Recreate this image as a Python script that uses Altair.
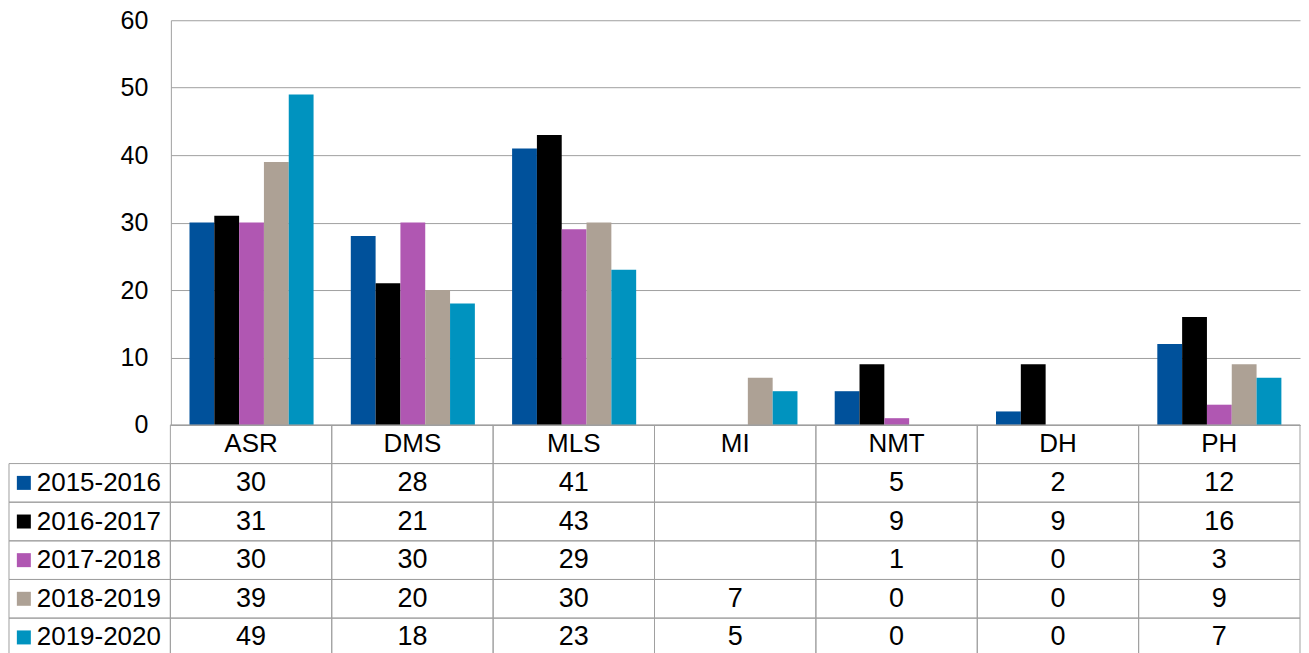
import altair as alt
import pandas as pd

categories = ["ASR", "DMS", "MLS", "MI", "NMT", "DH", "PH"]
series = ["2015-2016", "2016-2017", "2017-2018", "2018-2019", "2019-2020"]
v2015 = [30, 28, 41, None, 5, 2, 12]
v2016 = [31, 21, 43, None, 9, 9, 16]
v2017 = [30, 30, 29, None, 1, 0, 3]
v2018 = [39, 20, 30, 7, 0, 0, 9]
v2019 = [49, 18, 23, 5, 0, 0, 7]
colors = ["#00519B", "#000000", "#B057B2", "#ADA195", "#0093BF"]
y_ticks = [0, 10, 20, 30, 40, 50, 60]

values = [v2015, v2016, v2017, v2018, v2019]
FONT = "Liberation Sans"
GRID = "#A0A0A0"
PLOT_W = 1130
LEG_W = 162

bar_rows = []
for s, vals in zip(series, values):
    for c, v in zip(categories, vals):
        if v is not None:
            bar_rows.append({"cat": c, "series": s, "value": v})
bars_df = pd.DataFrame(bar_rows)

color_scale = alt.Scale(domain=series, range=colors)

bars = alt.Chart(bars_df).mark_bar().encode(
    x=alt.X("cat:N", sort=categories,
            scale=alt.Scale(paddingInner=0.2308, paddingOuter=0.1154),
            axis=alt.Axis(labels=False, ticks=False, title=None,
                          domainColor=GRID, domainWidth=1)),
    xOffset=alt.XOffset("series:N", sort=series,
                        scale=alt.Scale(paddingInner=0, paddingOuter=0)),
    y=alt.Y("value:Q", scale=alt.Scale(domain=[0, 60]),
            axis=alt.Axis(values=y_ticks, title=None, ticks=False,
                          labelFontSize=25, labelFont=FONT, labelColor="black",
                          labelPadding=23, gridColor=GRID, gridWidth=1,
                          domainColor=GRID, domainWidth=1)),
    color=alt.Color("series:N", scale=color_scale, legend=None),
).properties(width=PLOT_W, height=405)

# table
cols = ["legend"] + categories
rows = ["header"] + series
cell_rows = []
for r in rows:
    for c in cols:
        if r == "header" and c == "legend":
            continue
        cell_rows.append({"col": c, "row": r})
cells_df = pd.DataFrame(cell_rows)

header_df = pd.DataFrame({"col": categories, "row": ["header"] * len(categories), "label": categories})
val_rows = []
for s, vals in zip(series, values):
    for c, v in zip(categories, vals):
        if v is not None:
            val_rows.append({"col": c, "row": s, "label": str(v)})
vals_df = pd.DataFrame(val_rows)
leg_df = pd.DataFrame({"col": ["legend"] * len(series), "row": series, "series": series})

xs = alt.Scale(domain=cols, range=[-LEG_W, PLOT_W], paddingInner=0, paddingOuter=0)
ys = alt.Scale(domain=rows, paddingInner=0, paddingOuter=0)

cell_layer = alt.Chart(cells_df).mark_rect(fill="transparent", stroke=GRID, strokeWidth=1).encode(
    x=alt.X("col:N", scale=xs, axis=None, sort=cols),
    y=alt.Y("row:N", scale=ys, axis=None, sort=rows),
)
header_layer = alt.Chart(header_df).mark_text(fontSize=26, font=FONT, color="black").encode(
    x=alt.X("col:N", scale=xs, axis=None, sort=cols),
    y=alt.Y("row:N", scale=ys, axis=None, sort=rows),
    text="label:N",
)
val_layer = alt.Chart(vals_df).mark_text(fontSize=27, font=FONT, color="black").encode(
    x=alt.X("col:N", scale=xs, axis=None, sort=cols),
    y=alt.Y("row:N", scale=ys, axis=None, sort=rows),
    text="label:N",
)
sq_layer = alt.Chart(leg_df).mark_square(size=196, opacity=1).encode(
    x=alt.X("col:N", scale=xs, axis=None, sort=cols, bandPosition=0.092),
    y=alt.Y("row:N", scale=ys, axis=None, sort=rows),
    color=alt.Color("series:N", scale=color_scale, legend=None),
)
leg_text = alt.Chart(leg_df).mark_text(fontSize=26, font=FONT, color="black", align="left").encode(
    x=alt.X("col:N", scale=xs, axis=None, sort=cols, bandPosition=0.172),
    y=alt.Y("row:N", scale=ys, axis=None, sort=rows),
    text="series:N",
)
table = alt.layer(cell_layer, header_layer, val_layer, sq_layer, leg_text).properties(width=PLOT_W, height=232)

chart = alt.vconcat(bars, table, spacing=0, bounds="flush").properties(padding=0).configure_view(stroke=None)

chart.save("out.html", embed_options={"renderer": "svg", "actions": False})
